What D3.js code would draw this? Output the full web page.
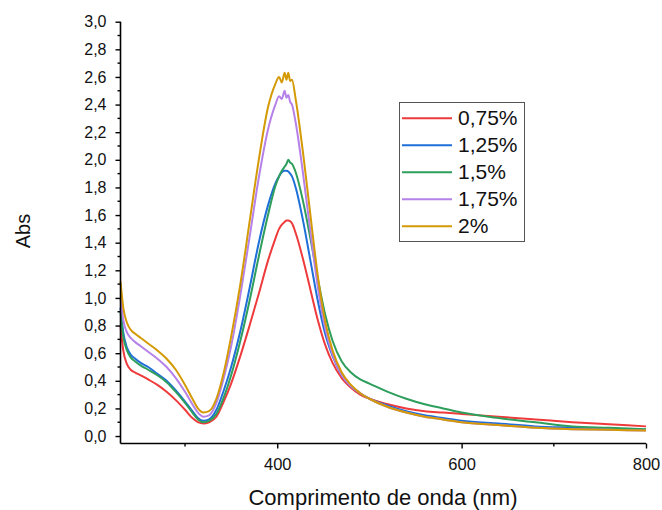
<!DOCTYPE html>
<html>
<head>
<meta charset="utf-8">
<script src="https://cdn.jsdelivr.net/npm/d3@7"></script>
<style>
  body { margin: 0; background: #fff; }
  text { font-family: "Liberation Sans", Arial, sans-serif; fill: #111; }
</style>
</head>
<body>
<svg id="chart" width="662" height="510"></svg>
<script>
// wavelength grid (nm)
var wavelengths = [230, 233, 237, 241, 246, 252, 260, 270, 280, 290, 300, 308, 314, 320, 326, 334, 342, 350, 360, 370, 380, 390, 398, 402, 405, 408, 410, 412, 414, 416, 420, 428, 436, 444, 452, 460, 470, 480, 490, 500, 520, 540, 560, 580, 600, 640, 680, 720, 760, 800];

var seriesNames = ["0,75%", "1,25%", "1,5%", "1,75%", "2%"];
var seriesColors = ["#ee3a3b", "#1f6fd8", "#2e9e5c", "#b681e8", "#d49a06"];

// absorbance for each series on the grid above
var abs075 = [0.80, 0.62, 0.52, 0.48, 0.46, 0.44, 0.41, 0.37, 0.32, 0.26, 0.19, 0.13, 0.10, 0.09, 0.10, 0.14, 0.25, 0.38, 0.58, 0.80, 1.03, 1.27, 1.43, 1.50, 1.53, 1.55, 1.56, 1.56, 1.555, 1.54, 1.47, 1.28, 1.06, 0.84, 0.66, 0.53, 0.42, 0.35, 0.30, 0.27, 0.23, 0.20, 0.18, 0.17, 0.16, 0.14, 0.12, 0.10, 0.085, 0.07];
var abs125 = [0.93, 0.75, 0.64, 0.59, 0.56, 0.53, 0.50, 0.45, 0.40, 0.33, 0.25, 0.18, 0.13, 0.11, 0.12, 0.19, 0.33, 0.50, 0.76, 1.07, 1.40, 1.67, 1.83, 1.88, 1.91, 1.92, 1.92, 1.915, 1.90, 1.88, 1.80, 1.56, 1.27, 0.98, 0.74, 0.58, 0.44, 0.36, 0.31, 0.27, 0.22, 0.18, 0.15, 0.13, 0.11, 0.09, 0.07, 0.06, 0.05, 0.045];
var abs150 = [0.90, 0.72, 0.62, 0.57, 0.54, 0.51, 0.48, 0.44, 0.39, 0.32, 0.24, 0.17, 0.12, 0.10, 0.11, 0.16, 0.28, 0.44, 0.69, 0.98, 1.30, 1.60, 1.81, 1.88, 1.92, 1.95, 1.97, 2.00, 1.98, 1.97, 1.91, 1.70, 1.43, 1.14, 0.88, 0.69, 0.54, 0.46, 0.41, 0.38, 0.32, 0.27, 0.23, 0.20, 0.17, 0.13, 0.10, 0.07, 0.06, 0.05];
var abs175 = [1.00, 0.84, 0.75, 0.71, 0.68, 0.65, 0.61, 0.56, 0.50, 0.42, 0.32, 0.23, 0.17, 0.14, 0.15, 0.24, 0.42, 0.65, 1.02, 1.44, 1.87, 2.22, 2.40, 2.46, 2.44, 2.50, 2.45, 2.47, 2.42, 2.40, 2.27, 1.90, 1.48, 1.08, 0.78, 0.59, 0.44, 0.36, 0.31, 0.27, 0.21, 0.17, 0.14, 0.12, 0.10, 0.08, 0.06, 0.05, 0.045, 0.04];
var abs200 = [1.12, 0.93, 0.82, 0.77, 0.74, 0.71, 0.67, 0.62, 0.56, 0.48, 0.37, 0.27, 0.20, 0.17, 0.18, 0.27, 0.46, 0.72, 1.10, 1.55, 2.00, 2.38, 2.55, 2.60, 2.56, 2.63, 2.58, 2.63, 2.57, 2.58, 2.44, 2.05, 1.60, 1.16, 0.83, 0.62, 0.46, 0.37, 0.31, 0.27, 0.21, 0.17, 0.14, 0.12, 0.10, 0.08, 0.06, 0.05, 0.045, 0.04];

var allSeries = [abs075, abs125, abs150, abs175, abs200];

var yTicks = d3.range(0, 3.01, 0.2);
var yMinorTicks = d3.range(0.1, 3.0, 0.2);
var xTicks = [400, 600, 800];
var xMinorTicks = [300, 500, 700];

var svg = d3.select("#chart");
var plotLeft = 120.5, plotRight = 646, plotTop = 21.7, plotBottom = 443.5;

var x = d3.scaleLinear().domain([230, 800]).range([plotLeft, plotRight]);
var y = d3.scaleLinear().domain([-0.054, 3.0]).range([plotBottom, plotTop]);

var comma = function (v) { return d3.format(".1f")(v).replace(".", ","); };

// curves
var line = d3.line()
    .x(function (d) { return x(d[0]); })
    .y(function (d) { return y(d[1]); })
    .curve(d3.curveMonotoneX);

allSeries.forEach(function (vals, i) {
    var pts = wavelengths.map(function (w, j) { return [w, vals[j]]; });
    svg.append("path")
        .attr("d", line(pts))
        .attr("fill", "none")
        .attr("stroke", seriesColors[i])
        .attr("stroke-width", 2);
});

// y axis
var yAxis = d3.axisLeft(y).tickValues(yTicks).tickFormat(comma).tickSize(5).tickSizeOuter(0);
var gy = svg.append("g").attr("transform", "translate(" + plotLeft + ",0)").call(yAxis);
gy.select(".domain").attr("d", "M0," + y(3.0) + "V" + plotBottom).attr("stroke", "#000").attr("stroke-width", 1.6);
gy.selectAll(".tick line").attr("stroke", "#000").attr("stroke-width", 1.4);
gy.selectAll(".tick text").style("font-size", "16px").attr("x", -14);
svg.append("g").selectAll("line")
    .data(yMinorTicks)
    .enter().append("line")
    .attr("x1", plotLeft - 3).attr("x2", plotLeft)
    .attr("y1", function (d) { return y(d); }).attr("y2", function (d) { return y(d); })
    .attr("stroke", "#000").attr("stroke-width", 1.4);

// x axis
var xAxis = d3.axisBottom(x).tickValues(xTicks).tickSize(5).tickSizeOuter(0);
var gx = svg.append("g").attr("transform", "translate(0," + plotBottom + ")").call(xAxis);
gx.select(".domain").attr("d", "M" + plotLeft + ",0H" + plotRight).attr("stroke", "#000").attr("stroke-width", 1.6);
gx.selectAll(".tick line").attr("stroke", "#000").attr("stroke-width", 1.4);
gx.selectAll(".tick text").style("font-size", "16.5px").attr("y", 15);
svg.append("g").selectAll("line")
    .data(xMinorTicks)
    .enter().append("line")
    .attr("x1", function (d) { return x(d); }).attr("x2", function (d) { return x(d); })
    .attr("y1", plotBottom).attr("y2", plotBottom + 3)
    .attr("stroke", "#000").attr("stroke-width", 1.4);

// axis titles
svg.append("text")
    .attr("x", 383).attr("y", 505)
    .attr("text-anchor", "middle").style("font-size", "22px")
    .text("Comprimento de onda (nm)");
svg.append("text")
    .attr("transform", "translate(30,231) rotate(-90)")
    .attr("text-anchor", "middle").style("font-size", "20px")
    .text("Abs");

// legend
var lg = svg.append("g");
lg.append("rect")
    .attr("x", 399.5).attr("y", 102.5).attr("width", 125).attr("height", 139)
    .attr("fill", "#fff").attr("stroke", "#555").attr("stroke-width", 1);
seriesNames.forEach(function (name, i) {
    var ly = 118.3 + i * 27;
    lg.append("line")
        .attr("x1", 402).attr("x2", 452).attr("y1", ly).attr("y2", ly)
        .attr("stroke", seriesColors[i]).attr("stroke-width", 2);
    lg.append("text")
        .attr("x", 458).attr("y", ly + 7)
        .style("font-size", "21px")
        .text(name);
});
</script>
</body>
</html>
